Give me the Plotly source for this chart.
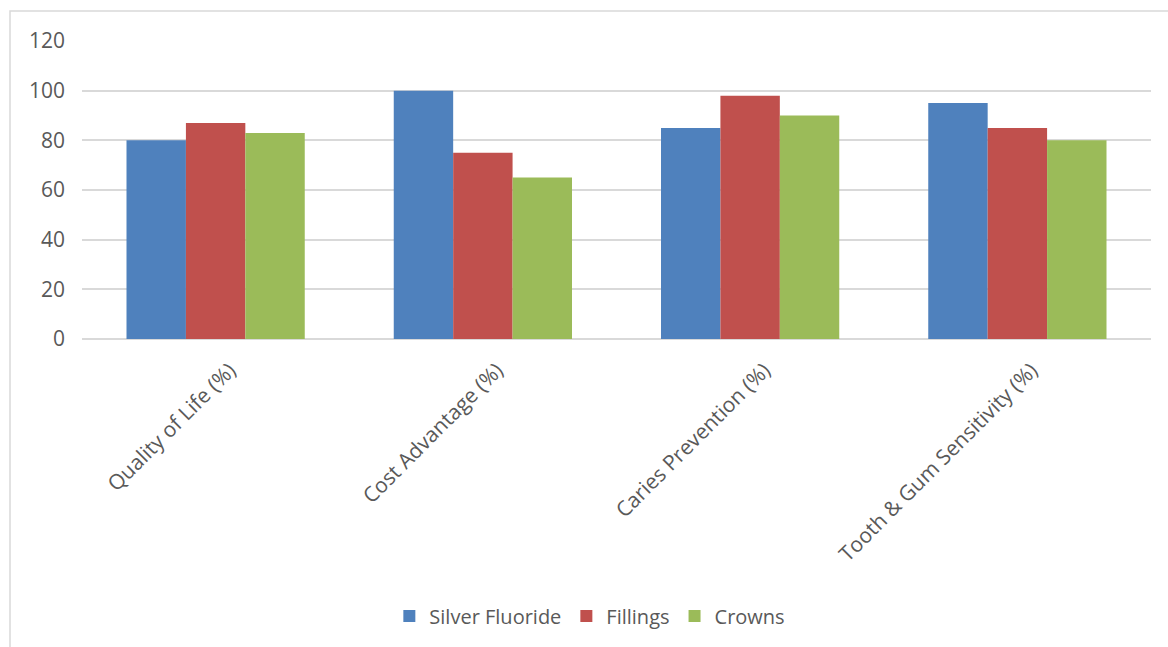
import plotly.graph_objects as go

categories = ["Quality of Life (%)", "Cost Advantage (%)", "Caries Prevention (%)", "Tooth & Gum Sensitivity (%)"]
silver_fluoride = [80, 100, 85, 95]
fillings = [87, 75, 98, 85]
crowns = [83, 65, 90, 80]
series_names = ["Silver Fluoride", "Fillings", "Crowns"]
colors = ["#4F81BD", "#C0504D", "#9BBB59"]
y_ticks = [0, 20, 40, 60, 80, 100, 120]

W, H = 1168, 647
ml, mr, mt, mb = 82, 17, 41, 308
pw = W - ml - mr
ph = H - mt - mb

fig = go.Figure()
for name, vals, c in zip(series_names, [silver_fluoride, fillings, crowns], colors):
    fig.add_trace(go.Bar(x=categories, y=vals, name=name, marker=dict(color=c, line=dict(width=0))))

font = "'Open Sans', sans-serif"
fig.update_layout(
    width=W, height=H,
    margin=dict(l=ml, r=mr, t=mt, b=mb, autoexpand=False),
    paper_bgcolor="white", plot_bgcolor="white",
    barmode="group", bargap=0.333, bargroupgap=0,
    font=dict(family=font, size=20, color="#595959"),
    xaxis=dict(tickangle=-45, showgrid=False, showline=False, ticks="",
               tickfont=dict(size=21, color="#595959"), ticklabelstandoff=14, ticklabelshift=14),
    yaxis=dict(range=[0, 120], tickvals=y_ticks, showgrid=True, gridcolor="#D9D9D9", gridwidth=1.5,
               zeroline=True, zerolinecolor="#D9D9D9", zerolinewidth=1.5, showline=False, ticks="",
               tickfont=dict(size=21, color="#595959"), ticklabelstandoff=16),
    legend=dict(orientation="h", x=0.505, xref="container", xanchor="center", y=1 - 616 / H, yref="container",
                yanchor="middle", font=dict(size=20, color="#595959"), itemwidth=30, tracegroupgap=0),
    showlegend=True,
)
fig.add_shape(type="rect", xref="paper", yref="paper",
              x0=(10 - ml) / pw, x1=(1180 - ml) / pw,
              y0=(H - mb - 660) / ph, y1=1 + (mt - 11) / ph,
              line=dict(color="#D9D9D9", width=1.5), fillcolor="rgba(0,0,0,0)", layer="below")

fig.write_html("out.html")
